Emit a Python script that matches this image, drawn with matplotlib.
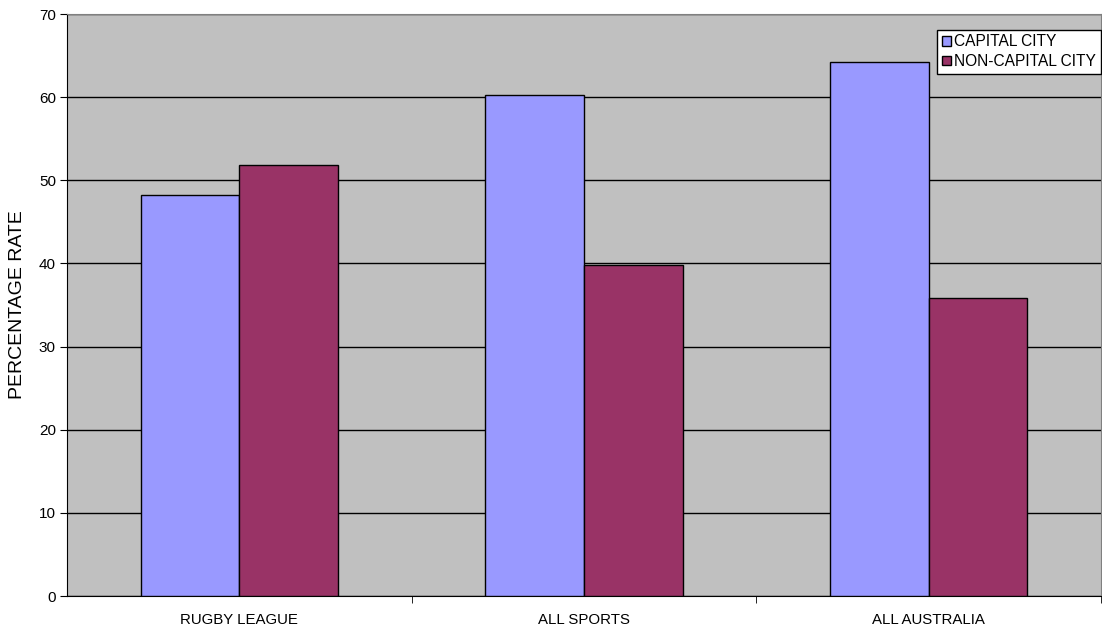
import numpy as np
import matplotlib.pyplot as plt

plt.rcParams['font.family'] = ['Liberation Sans', 'DejaVu Sans']

# Data
categories = ['RUGBY LEAGUE', 'ALL SPORTS', 'ALL AUSTRALIA']
capital = [48.2, 60.2, 64.2]
non_capital = [51.8, 39.8, 35.8]

fig = plt.figure(figsize=(11.02, 6.30), dpi=100)
ax = fig.add_axes([67 / 1102, 1 - 596 / 630, (1101 - 67) / 1102, (596 - 14) / 630])

x = np.arange(len(categories))
w = 0.286
ax.bar(x - w / 2, capital, w, color='#9999FF', edgecolor='black', linewidth=1,
       label='CAPITAL CITY', zorder=3)
ax.bar(x + w / 2, non_capital, w, color='#993366', edgecolor='black', linewidth=1,
       label='NON-CAPITAL CITY', zorder=3)

ax.set_facecolor('#C0C0C0')
ax.set_xlim(-0.5, 2.5)
ax.set_ylim(0, 70)
ax.set_yticks(range(0, 71, 10))
ax.yaxis.grid(True, color='black', linewidth=1, zorder=1)
ax.set_axisbelow(True)

ax.set_xticks(x)
ax.set_xticklabels(categories, fontsize=10.8)
ax.tick_params(axis='x', length=0, pad=12)
ax.set_xticks([0.5, 1.5, 2.5], minor=True)
ax.tick_params(axis='x', which='minor', length=5, direction='out', color='black')
ax.tick_params(axis='y', length=5, direction='out', labelsize=11, pad=3)

ax.set_ylabel('PERCENTAGE RATE', fontsize=14, labelpad=9)

for side in ['top', 'right']:
    ax.spines[side].set_color('#808080')
for side in ['left', 'bottom']:
    ax.spines[side].set_color('black')

leg = ax.legend(loc='upper right', bbox_to_anchor=(1.0, 0.973), fontsize=11.2,
                frameon=True, fancybox=False, edgecolor='black', framealpha=1,
                handlelength=0.55, handleheight=0.55, handletextpad=0.25,
                borderpad=0.3, labelspacing=0.3, borderaxespad=0)
leg.get_frame().set_linewidth(1)

fig.savefig('out.png', dpi=100)
